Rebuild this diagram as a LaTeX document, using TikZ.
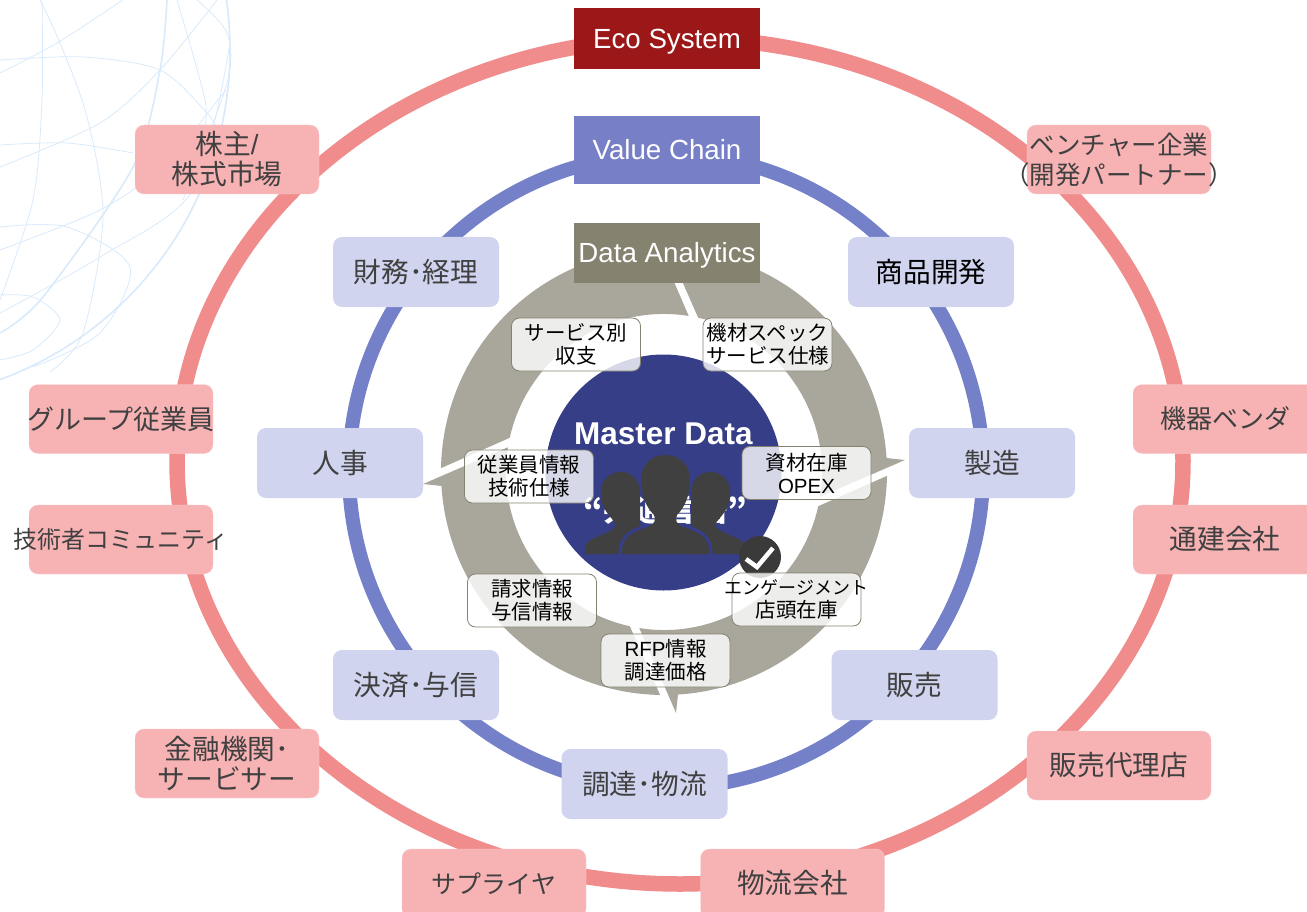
\documentclass[tikz,border=0pt]{standalone}
\usepackage{fontspec}
\setmainfont{Noto Sans CJK JP}
\newfontfamily\lat{Liberation Sans}
\newcommand\spill[1]{\makebox[0pt]{#1}}
\definecolor{ecored}{HTML}{9B1718}
\definecolor{chainblue}{HTML}{777FC6}
\definecolor{datagray}{HTML}{868270}
\definecolor{cyclegray}{HTML}{A9A69C}
\definecolor{ringpink}{HTML}{F08C8C}
\definecolor{ringblue}{HTML}{7480C8}
\definecolor{boxpink}{HTML}{F7B2B4}
\definecolor{boxblue}{HTML}{D0D4EE}
\definecolor{masterblue}{HTML}{363E87}
\definecolor{globeblue}{HTML}{D8EAFB}
\definecolor{darktext}{HTML}{404040}
\begin{document}
\begin{tikzpicture}[x=1pt,y=-1pt,
	headbox/.style = {shape = rectangle,
	                  minimum width = 186pt,
	                  inner sep=0pt,
	                  text = white,
	                  text height = 20pt,
	                  text depth = 0pt,
	                  font=\lat\fontsize{27.7}{30}\selectfont},
	chainbox/.style = {shape = rectangle,
	                   rounded corners = 9pt,
	                   fill = boxblue,
	                   text = darktext,
	                   minimum width = 166pt,
	                   minimum height = 70pt,
	                   inner sep=0pt,
	                   font=\fontsize{27.7}{30}\selectfont},
	ecobox/.style = {shape = rectangle,
	                 rounded corners = 9pt,
	                 fill = boxpink,
	                 draw = boxpink!60!white,
	                 text = darktext,
	                 align = center,
	                 minimum width = 184pt,
	                 minimum height = 69pt,
	                 inner sep=0pt,
	                 font=\fontsize{27.7}{30}\selectfont},
	tagbox/.style = {shape = rectangle,
	                 rounded corners = 8pt,
	                 fill = white,
	                 fill opacity = 0.8,
	                 text opacity = 1,
	                 draw = datagray,
	                 line width = 0.8pt,
	                 text = black,
	                 align = center,
	                 minimum width = 129pt,
	                 minimum height = 53pt,
	                 inner sep=0pt,
	                 font=\fontsize{20.5}{23}\selectfont},
	globeline/.style = {globeblue, line width = 0.8pt},
	globerim/.style = {globeblue, line width = 1.6pt}]
	\useasboundingbox (0,0) rectangle (1307,912);

	% globe behind everything
	\begin{scope}
		\clip (0,0) rectangle (300,400);
		\draw[globerim] (-121,50) circle [radius=351];
		\draw[globerim] plot[smooth] coordinates {(167,0) (160,70) (133,167) (43,297) (0,333)};
		\draw[globeline] plot[smooth] coordinates {(40,0) (60,43) (87,117) (103,217) (83,333) (50,372)};
		\draw[globeline] plot[smooth] coordinates {(42,0) (42,100) (33,200) (0,300)};
		\draw[globeline] plot[smooth] coordinates {(0,60) (83,57) (160,70) (207,113) (217,130)};
		\draw[globeline] plot[smooth] coordinates {(0,145) (67,143) (133,153)};
		\draw[globeline] plot[smooth] coordinates {(0,227) (67,227) (130,267) (100,333) (33,367)};
		\draw[globeline] plot[smooth] coordinates {(0,295) (33,297) (60,320) (33,350) (0,360)};
		\draw[globeline] plot[smooth] coordinates {(0,73) (57,43) (123,0)};
		\draw[globeline] plot[smooth] coordinates {(0,167) (100,123) (160,70) (217,0)};
		\draw[globeline] plot[smooth] coordinates {(0,250) (100,210) (165,165) (210,110) (226,90)};
		\draw[globeline] plot[smooth] coordinates {(0,313) (100,257) (193,190) (230,43)};
		\draw[globeline] plot[smooth] coordinates {(177,0) (205,100) (203,133)};
		\draw[globeline] plot[smooth] coordinates {(197,0) (227,33) (227,83) (183,200)};
	\end{scope}

	% rings
	\draw[ringpink, line width=15.5pt] (680,461) ellipse [x radius=503, y radius=423];
	\draw[ringblue, line width=14pt] (666,471) circle [radius=317];

	% four arrows of the cycle
	\foreach \turn in {0,90,180,270} {
		\begin{scope}[shift={(664,472)}, rotate=-\turn]
			\fill[cyclegray] (89:223pt) arc[start angle=89, end angle=3.6, radius=223pt]
				-- (241pt,12pt) -- (-9:158pt)
				arc[start angle=-9, end angle=77.5, radius=158pt] -- cycle;
		\end{scope}
	}

	% middle
	\node[circle, fill=masterblue, minimum size=236pt, inner sep=0pt] (master) at (663.5,472.5) {};
	\node[text=white, inner sep=0pt, font=\lat\bfseries\fontsize{31.5}{34}\selectfont] (mastertitle) at (663.5,434) {Master Data};
	\node[text=white, inner sep=0pt, font=\bfseries\fontsize{31}{34}\selectfont] (masterword) at (665,510) {“共通言語”};

	% people
	\fill[darktext] (585,554) .. controls (584,545) and (586,541) .. (597,537) -- (612,530)
		.. controls (617,527) and (616,523) .. (612,519) .. controls (604,510) and (600,502) .. (601,491)
		.. controls (602,479) and (610,472) .. (621,472) .. controls (632,472) and (640,480) .. (640,495)
		-- (640,554) -- cycle;
	\fill[darktext] (746,554) .. controls (747,545) and (745,541) .. (734,537) -- (719,530)
		.. controls (714,527) and (715,523) .. (719,519) .. controls (727,510) and (731,502) .. (730,491)
		.. controls (729,479) and (721,472) .. (710,472) .. controls (699,472) and (691,480) .. (691,495)
		-- (691,554) -- cycle;
	\draw[masterblue, line width=7pt] (622,556) .. controls (621,538) and (630,533) .. (648,527);
	\draw[masterblue, line width=7pt] (709,556) .. controls (710,538) and (701,533) .. (683,527);
	\fill[darktext] (622,554) .. controls (621,538) and (630,533) .. (648,527)
		.. controls (655,524) and (656,520) .. (654,515) .. controls (646,507) and (641,495) .. (641,480)
		.. controls (641,465) and (651,455) .. (665.5,455) .. controls (680,455) and (690,465) .. (690,480)
		.. controls (690,495) and (685,507) .. (677,515) .. controls (675,520) and (676,524) .. (683,527)
		.. controls (701,533) and (710,538) .. (709,554) -- cycle;

	% check mark
	\node[circle, fill=darktext!90!black, minimum size=42pt, inner sep=0pt] (check) at (760,557) {};
	\draw[white, line width=4.5pt] (746,559) -- (757,567) -- (773,548);

	% tags
	\node[tagbox] (tagfinance) at (576,344.5) {サービス別\\収支};
	\node[tagbox] (tagspec) at (767.5,344.5) {\spill{機材スペック}\\\spill{サービス仕様}};
	\node[tagbox] (tagstaff) at (529,476.5) {従業員情報\\技術仕様};
	\node[tagbox] (tagstock) at (806.5,473) {資材在庫\\{\lat OPEX}};
	\node[tagbox] (tagbill) at (532,600.5) {請求情報\\与信情報};
	\node[tagbox] (tagshop) at (796.5,599.5) {\spill{\fontsize{18}{23}\selectfont エンゲージメント}\\店頭在庫};
	\node[tagbox] (tagrfp) at (665.5,660.5) {{\lat RFP}情報\\調達価格};

	% headers
	\node[headbox, fill=ecored, minimum height=61pt] (eco) at (667,38.5) {Eco System};
	\node[headbox, fill=chainblue, minimum height=68pt] (value) at (667,150) {Value Chain};
	\node[headbox, fill=datagray, minimum height=60pt] (data) at (667,253) {Data Analytics};

	% value chain
	\node[chainbox] (acct) at (416,272) {財務･経理};
	\node[chainbox, text=black] (dev) at (931,272) {商品開発};
	\node[chainbox] (hr) at (340,463) {人事};
	\node[chainbox] (make) at (992,463) {製造};
	\node[chainbox] (credit) at (416,685) {決済･与信};
	\node[chainbox] (sales) at (914.5,685) {販売};
	\node[chainbox] (buy) at (644.5,784) {調達･物流};

	% eco system
	\node[ecobox] (holder) at (227,159.5) {株主{\lat /}\\株式市場};
	\node[ecobox, font=\fontsize{25.5}{30}\selectfont] (venture) at (1119,159.5) {\spill{ベンチャー企業}\\\spill{（開発パートナー）}};
	\node[ecobox, font=\fontsize{26}{30}\selectfont] (vendor) at (1225,419) {機器ベンダ};
	\node[ecobox] (builder) at (1225,539.5) {通建会社};
	\node[ecobox, font=\fontsize{27}{30}\selectfont] (group) at (121,419) {\spill{グループ従業員}};
	\node[ecobox, font=\fontsize{24}{30}\selectfont] (tech) at (121,539.5) {\spill{技術者コミュニティ}};
	\node[ecobox] (bank) at (227,763.5) {金融機関･\\サービサー};
	\node[ecobox] (agent) at (1119,765.5) {販売代理店};
	\node[ecobox, font=\fontsize{25}{30}\selectfont] (supplier) at (494,883.5) {サプライヤ};
	\node[ecobox] (logi) at (792.5,883.5) {物流会社};
\end{tikzpicture}
\end{document}
